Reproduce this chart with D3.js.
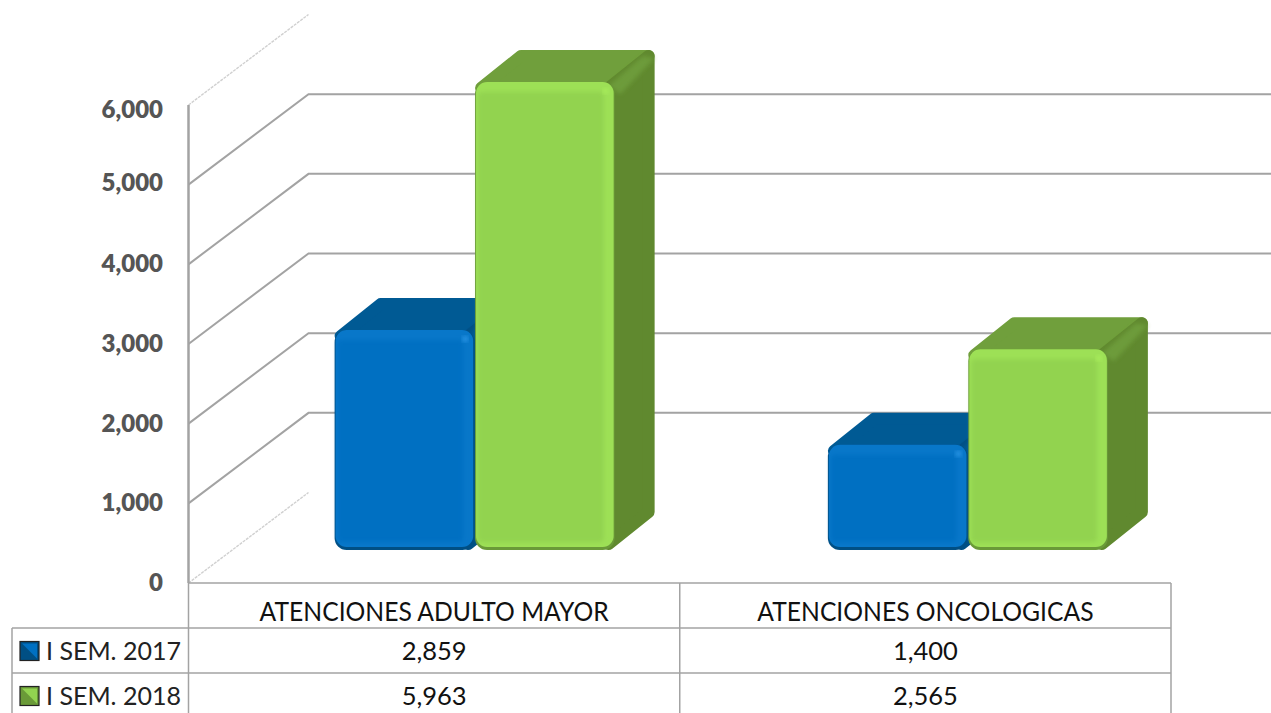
<!DOCTYPE html>
<html lang="es">
<head>
<meta charset="UTF-8">
<title>Atenciones I semestre</title>
<script src="https://d3js.org/d3.v7.min.js"></script>
<style>
  html, body { margin: 0; background: #fff; overflow: hidden; }
  svg { display: block; font-family: Lato, "Open Sans", sans-serif; }
</style>
</head>
<body>
<svg width="1271" height="713"></svg>
<script>
// data
const categories = ["ATENCIONES ADULTO MAYOR", "ATENCIONES ONCOLOGICAS"];
const seriesNames = ["I SEM. 2017", "I SEM. 2018"];
const values2017 = [2859, 1400];
const values2018 = [5963, 2565];
const tickValues = [0, 1000, 2000, 3000, 4000, 5000, 6000];

const seriesValues = [values2017, values2018];
const palette = [
  { front: "#0070c2", light: "#0877c9", dark: "#004f84", top: "#005a94", side: "#005085", spot: "#2a96e6" },
  { front: "#92d350", light: "#9de056", dark: "#6a9a38", top: "#709f3c", side: "#60892f", spot: "#a8ec5c" }
];

const svg = d3.select("svg");
const axisX = 188.5, tableRight = 1171, pageRight = 1271;
const depthWall = { dx: 120, dy: -90.5 };
const depthBar = { dx: 40, dy: -32 };

const y = d3.scaleLinear().domain([0, 6000]).range([583, 105]);
// bars stand on the floor of the 3D box, so their base is higher than the axis zero
const yBar = d3.scaleLinear().domain([0, 6000]).range([550, 78]);
const x0 = d3.scaleBand().domain(categories).range([axisX, tableRight]);
const x1 = d3.scaleBand().domain(seriesNames).range([-140, 140]).paddingInner(0.006);
const barShift = [40.5, 42.5];
const barSag = [5, 1]; // the blue bevel sits a little lower in the original

const defs = svg.append("defs");
defs.append("filter").attr("id", "soft").attr("x", "-10%").attr("y", "-10%").attr("width", "120%").attr("height", "120%")
  .append("feGaussianBlur").attr("stdDeviation", 2);

// walls
const grid = svg.append("g").attr("fill", "none");
tickValues.forEach(v => {
  const edge = v === 0 || v === 6000;
  const pts = [[axisX, y(v)], [axisX + depthWall.dx, y(v) + depthWall.dy]];
  if (!edge) pts.push([pageRight, y(v) + depthWall.dy]);
  grid.append("path")
    .attr("d", d3.line()(pts))
    .attr("stroke", edge ? "#d0d0d0" : "#a3a3a3")
    .attr("stroke-dasharray", edge ? "3,1" : null)
    .attr("stroke-width", edge ? 1.4 : 2);
});
grid.append("line").attr("x1", axisX).attr("x2", axisX).attr("y1", y(6000)).attr("y2", y(0))
  .attr("stroke", "#a3a3a3").attr("stroke-width", 2.5);

// tick labels, the original ones are a bit uneven at the top
const labelNudge = { 6000: 13, 5000: 6 };
svg.append("g").selectAll("text").data(tickValues).join("text")
  .attr("x", 163).attr("y", d => y(d) + (labelNudge[d] || 8))
  .attr("text-anchor", "end")
  .attr("font-size", 24).attr("font-weight", 800).attr("fill", "#555")
  .text(d => d3.format(",")(d));

// bars
function drawBar(g, left, w, top, base, c) {
  const right = left + w, d = depthBar, r = 6;
  g.append("path")
    .attr("d", d3.line()([[left + r, top + r], [left + d.dx + r, top + d.dy + r], [right + d.dx - r, top + d.dy + r], [right - r, top + r]]) + "Z")
    .attr("fill", c.top).attr("stroke", c.top).attr("stroke-width", r * 2).attr("stroke-linejoin", "round");
  g.append("path")
    .attr("d", d3.line()([[right - r, top + r], [right + d.dx - r, top + d.dy + r], [right + d.dx - r, base + d.dy - r], [right - r, base - r]]) + "Z")
    .attr("fill", c.side).attr("stroke", c.side).attr("stroke-width", r * 2).attr("stroke-linejoin", "round");
  g.append("path")
    .attr("d", d3.line()([[right - 6, top + 4], [right + d.dx - 12, top + d.dy + 6], [right + d.dx, top + d.dy + 8], [right + 6, top + 12]]) + "Z")
    .attr("fill", c.top).attr("opacity", 0.85).attr("filter", "url(#soft)");
  g.append("rect").attr("x", left).attr("y", top).attr("width", w).attr("height", base - top)
    .attr("rx", 12).attr("fill", c.dark);
  g.append("rect").attr("x", left + 1).attr("y", top).attr("width", w - 2).attr("height", base - top - 3)
    .attr("rx", 11).attr("fill", c.light);
  g.append("rect").attr("x", left + 3).attr("y", top + 10).attr("width", w - 14).attr("height", base - top - 18)
    .attr("rx", 4).attr("fill", c.front).attr("filter", "url(#soft)");
  g.append("circle").attr("cx", right - 9).attr("cy", top + 9).attr("r", 3)
    .attr("fill", c.spot).attr("filter", "url(#soft)");
}

categories.forEach((cat, i) => {
  const center = x0(cat) + x0.bandwidth() / 2 + barShift[i];
  seriesNames.forEach((name, s) => {
    drawBar(svg.append("g"), center + x1(name), x1.bandwidth(),
      yBar(seriesValues[s][i]) + barSag[s], yBar(0), palette[s]);
  });
});

// data table
const rows = d3.scaleBand().domain(["head"].concat(seriesNames)).range([583, 718]);
const table = svg.append("g").attr("stroke", "#a3a3a3").attr("stroke-width", 1.5);
const hLines = [[axisX, tableRight, 583], [12, tableRight, rows(seriesNames[0])], [12, tableRight, rows(seriesNames[1])]];
hLines.forEach(l => table.append("line").attr("x1", l[0]).attr("x2", l[1]).attr("y1", l[2]).attr("y2", l[2]));
[[12, rows(seriesNames[0])], [axisX, 583], [x0(categories[1]), 583], [tableRight, 583]].forEach(l =>
  table.append("line").attr("x1", l[0]).attr("x2", l[0]).attr("y1", l[1]).attr("y2", 713));

const cellText = svg.append("g").attr("font-size", 25.5).attr("fill", "#111").attr("text-anchor", "middle");
categories.forEach((cat, i) => {
  const cx = x0(cat) + x0.bandwidth() / 2;
  cellText.append("text")
    .attr("transform", `translate(${cx},${rows("head") + rows.bandwidth() / 2 + 15}) scale(0.95,1)`)
    .attr("font-size", 26).text(cat);
  seriesNames.forEach((name, s) => {
    cellText.append("text").attr("x", cx).attr("y", rows(name) + rows.bandwidth() / 2 + 9)
      .text(d3.format(",")(seriesValues[s][i]));
  });
});

// legend keys in the table
seriesNames.forEach((name, s) => {
  const c = palette[s], ky = rows(name) + 13.5, kx = 20, k = 19;
  const key = svg.append("g");
  key.append("rect").attr("x", kx).attr("y", ky).attr("width", k).attr("height", k).attr("fill", c.dark).attr("stroke", "#222").attr("stroke-width", 1.2);
  key.append("path").attr("d", d3.line()([[kx + 2, ky + 2], [kx + k - 2, ky + 2], [kx + k - 2, ky + k - 2], [kx + k / 2, ky + k / 2]]) + "Z").attr("fill", c.front);
  svg.append("text").attr("x", 46).attr("y", rows(name) + rows.bandwidth() / 2 + 9)
    .attr("font-size", 25).attr("fill", "#222").text(name);
});
</script>
</body>
</html>
